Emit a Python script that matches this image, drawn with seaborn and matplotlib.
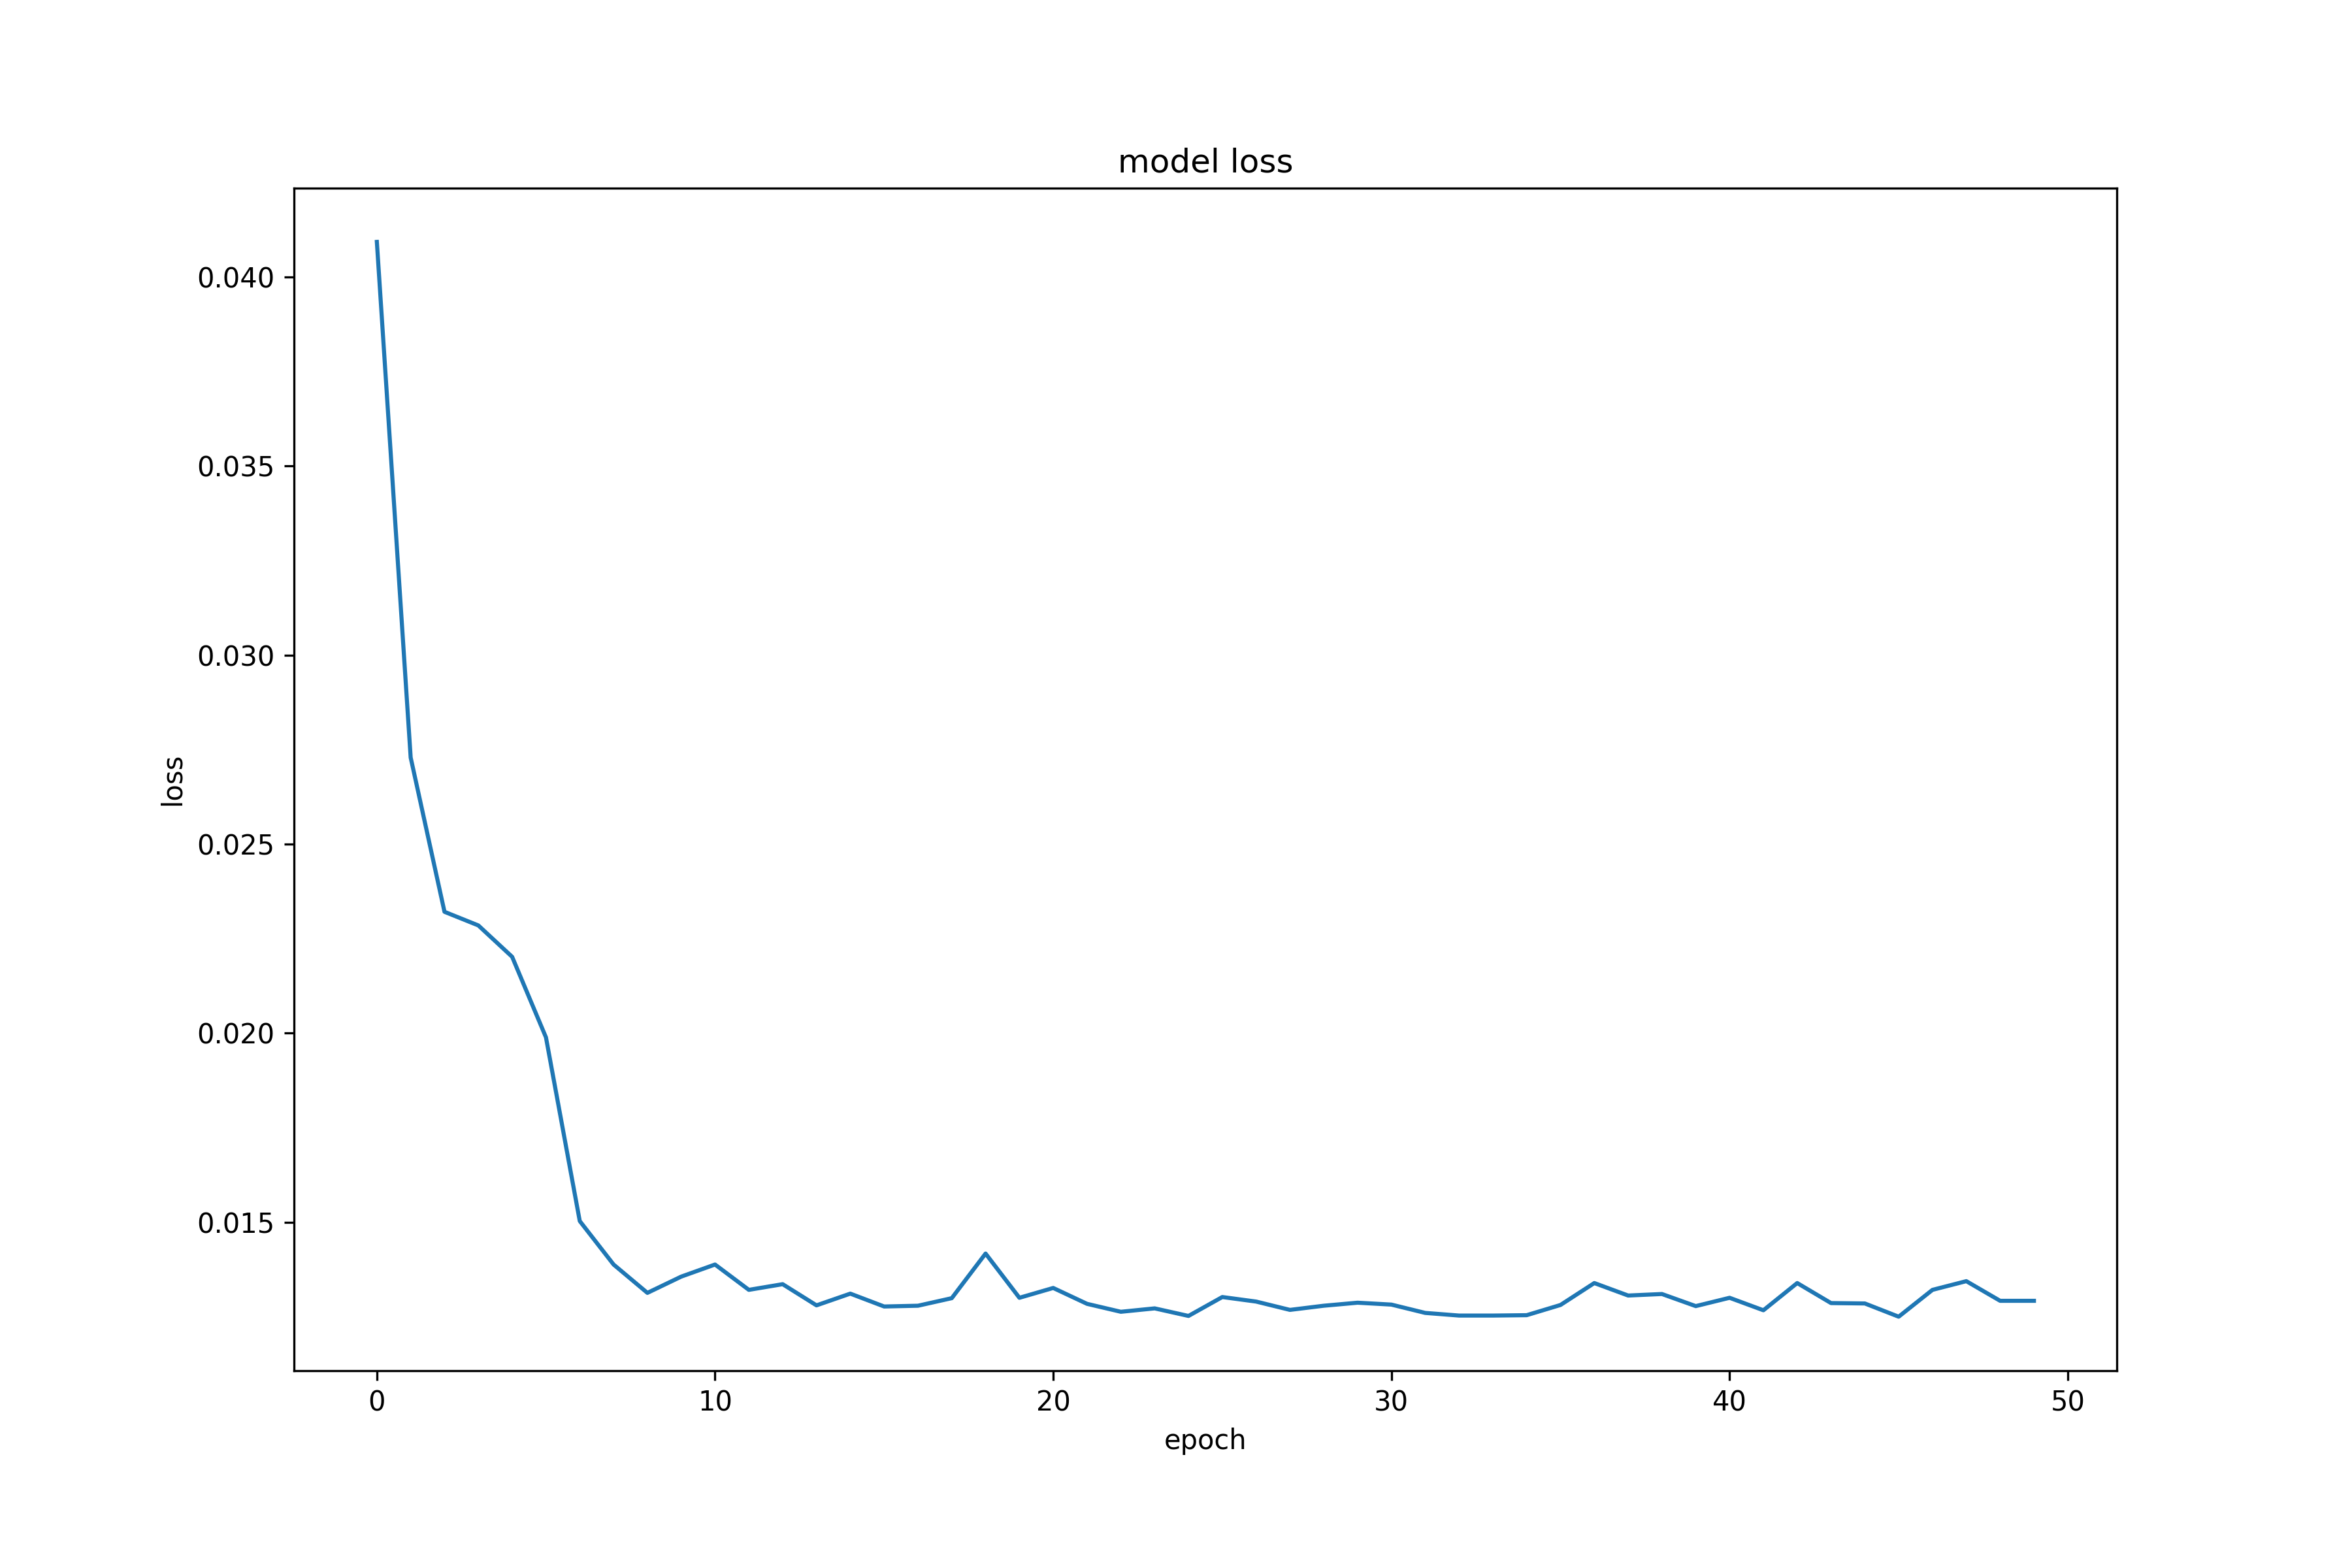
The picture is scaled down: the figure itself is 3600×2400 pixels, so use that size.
import matplotlib
matplotlib.use("Agg")
import matplotlib.pyplot as plt
import seaborn as sns
import pandas as pd

epochs = list(range(50))
loss = [
    0.04093, 0.02729, 0.02321, 0.02285, 0.02202, 0.01989, 0.01503, 0.01388,
    0.01313, 0.01356, 0.01388, 0.01321, 0.01336, 0.01280, 0.01311, 0.01277,
    0.01279, 0.01299, 0.01417, 0.01300, 0.01326, 0.01284, 0.01263, 0.01272,
    0.01252, 0.01302, 0.01290, 0.01268, 0.01279, 0.01287, 0.01282, 0.01260,
    0.01253, 0.01253, 0.01254, 0.01281, 0.01339, 0.01306, 0.01310, 0.01278,
    0.01300, 0.01267, 0.01339, 0.01286, 0.01285, 0.01250, 0.01321, 0.01344,
    0.01292, 0.01292,
]
df = pd.DataFrame({"epoch": epochs, "loss": loss})

fig, ax = plt.subplots(figsize=(12, 8), dpi=300)
fig.subplots_adjust(left=0.125, right=0.9, top=0.88, bottom=0.126)
sns.lineplot(data=df, x="epoch", y="loss", ax=ax, color="#1f77b4", linewidth=1.5)
ax.set_title("model loss")
ax.set_xlabel("epoch")
ax.set_ylabel("loss")
fig.savefig("out.png", dpi=300)
